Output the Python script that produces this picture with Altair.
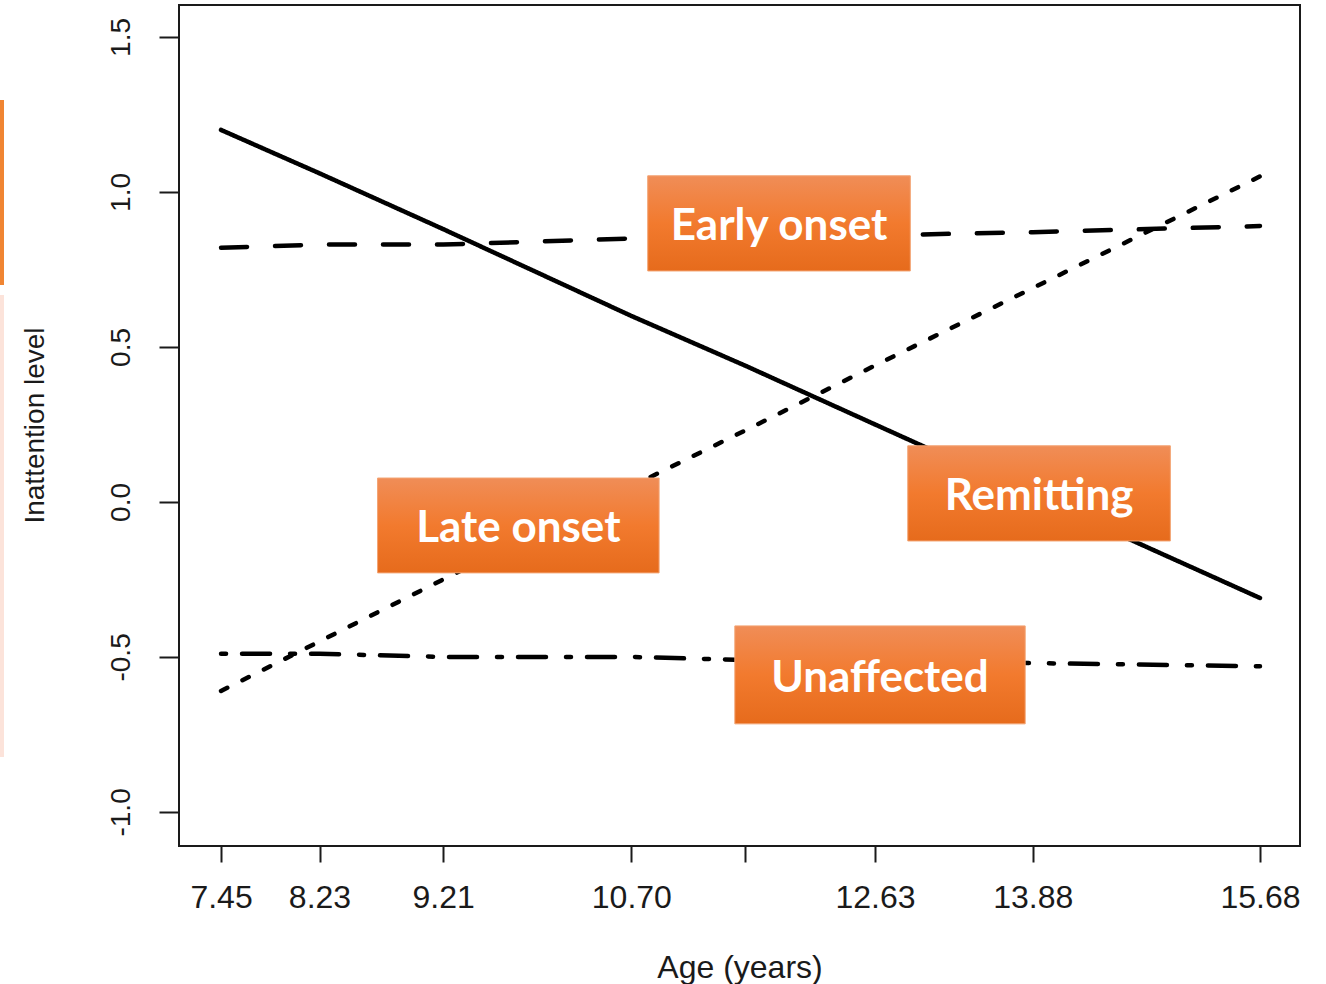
import altair as alt
import pandas as pd

# ---- data ----
ages = [7.45, 8.23, 9.21, 10.70, 11.60, 12.63, 13.88, 15.68]
early_onset = [0.82, 0.83, 0.83, 0.85, 0.85, 0.86, 0.87, 0.89]
remitting = [1.20, 1.06, 0.88, 0.60, 0.44, 0.25, 0.02, -0.31]
late_onset = [-0.61, -0.45, -0.25, 0.05, 0.23, 0.44, 0.69, 1.05]
unaffected = [-0.49, -0.49, -0.50, -0.50, -0.51, -0.51, -0.52, -0.53]
groups = ["Early onset", "Remitting", "Late onset", "Unaffected"]
x_ticks = [7.45, 8.23, 9.21, 10.70, 11.60, 12.63, 13.88, 15.68]
y_ticks = [-1.0, -0.5, 0.0, 0.5, 1.0, 1.5]

# annotation boxes (data units)
box_labels = ["Early onset", "Remitting", "Late onset", "Unaffected"]
box_x0 = [10.83, 12.89, 8.69, 11.52]
box_x1 = [12.91, 14.97, 10.92, 13.82]
box_ytop = [1.052, 0.181, 0.077, -0.400]
box_ybot = [0.745, -0.126, -0.229, -0.716]

series = {"Early onset": early_onset, "Remitting": remitting,
          "Late onset": late_onset, "Unaffected": unaffected}
rows = []
for g in groups:
    for a, v in zip(ages, series[g]):
        rows.append({"age": a, "value": v, "group": g})
df = pd.DataFrame(rows)

boxes = pd.DataFrame({
    "label": box_labels, "x0": box_x0, "x1": box_x1,
    "ytop": box_ytop, "ybot": box_ybot,
})
boxes["xc"] = (boxes["x0"] + boxes["x1"]) / 2
boxes["yc"] = (boxes["ytop"] + boxes["ybot"]) / 2

FONT = "Liberation Sans"
INK = "#1a1a1a"

xscale = alt.Scale(domain=[7.117, 15.997], nice=False, zero=False)
yscale = alt.Scale(domain=[-1.11, 1.603], nice=False, zero=False)

xaxis = alt.Axis(
    values=x_ticks, grid=False, domain=False,
    labelExpr="abs(datum.value - 11.6) < 0.001 ? '' : format(datum.value, '.2f')",
    tickSize=16, tickWidth=2, tickColor=INK,
    labelFont=FONT, labelFontSize=32, labelColor=INK, labelPadding=20,
    labelBaseline="top", labelAlign="center", labelOverlap=False,
    title="Age (years)", titleFont=FONT, titleFontSize=32, titleFontWeight="normal",
    titleColor=INK, titleY=131, titleBaseline="alphabetic",
)
yaxis = alt.Axis(
    values=y_ticks, grid=False, domain=False,
    labelExpr="(datum.value < 0 ? '-' : '') + format(abs(datum.value), '.1f')",
    tickSize=20, tickWidth=2, tickColor=INK,
    labelFont=FONT, labelFontSize=28, labelColor=INK, labelPadding=30,
    labelAngle=270, labelAlign="center", labelBaseline="alphabetic", labelOverlap=False,
    title="Inattention level", titleFont=FONT, titleFontSize=28, titleFontWeight="normal",
    titleColor=INK, titleAngle=270, titleAlign="center", titleBaseline="alphabetic",
    titleX=-136, titleY=420,
)

lines = alt.Chart(df).mark_line(color="black", strokeWidth=4.5, strokeCap="round").encode(
    x=alt.X("age:Q", scale=xscale, axis=xaxis),
    y=alt.Y("value:Q", scale=yscale, axis=yaxis),
    detail="group:N",
    strokeDash=alt.StrokeDash(
        "group:N",
        scale=alt.Scale(domain=groups,
                        range=[[26, 28], [1, 0], [7, 17], [5, 16, 28, 20]]),
        legend=None,
    ),
)

gradient = alt.LinearGradient(
    gradient="linear",
    stops=[alt.GradientStop(color="#F08D57", offset=0),
           alt.GradientStop(color="#F27A2E", offset=0.5),
           alt.GradientStop(color="#E66B1C", offset=1)],
    x1=0, x2=0, y1=0, y2=1,
)

rects = alt.Chart(boxes).mark_rect(color=gradient, stroke="#F3A372", strokeWidth=1).encode(
    x=alt.X("x0:Q", scale=xscale), x2="x1:Q",
    y=alt.Y("ytop:Q", scale=yscale), y2="ybot:Q",
)

texts = alt.Chart(boxes).mark_text(
    font="Lato", fontWeight="bold", fontSize=44, color="white",
    baseline="middle", align="center", dy=4,
).encode(
    x=alt.X("xc:Q", scale=xscale),
    y=alt.Y("yc:Q", scale=yscale),
    text="label:N",
)

edge = pd.DataFrame({"k": [0]})
bar_orange = alt.Chart(edge).mark_rule(color="#F08532", strokeWidth=4).encode(
    x=alt.value(-177), y=alt.value(95), y2=alt.value(280)
)
bar_pink = alt.Chart(edge).mark_rule(color="#FCE3DA", strokeWidth=4).encode(
    x=alt.value(-177), y=alt.value(290), y2=alt.value(752)
)

chart = alt.layer(lines, rects, texts, bar_orange, bar_pink).properties(
    width=1121, height=841,
    padding={"left": 179, "top": 5, "right": 26, "bottom": 138},
    autosize=alt.AutoSizeParams(type="none"),
    background="white",
).configure_view(stroke=INK, strokeWidth=2)

chart.save("out.html", embed_options={"renderer": "svg", "actions": False})
